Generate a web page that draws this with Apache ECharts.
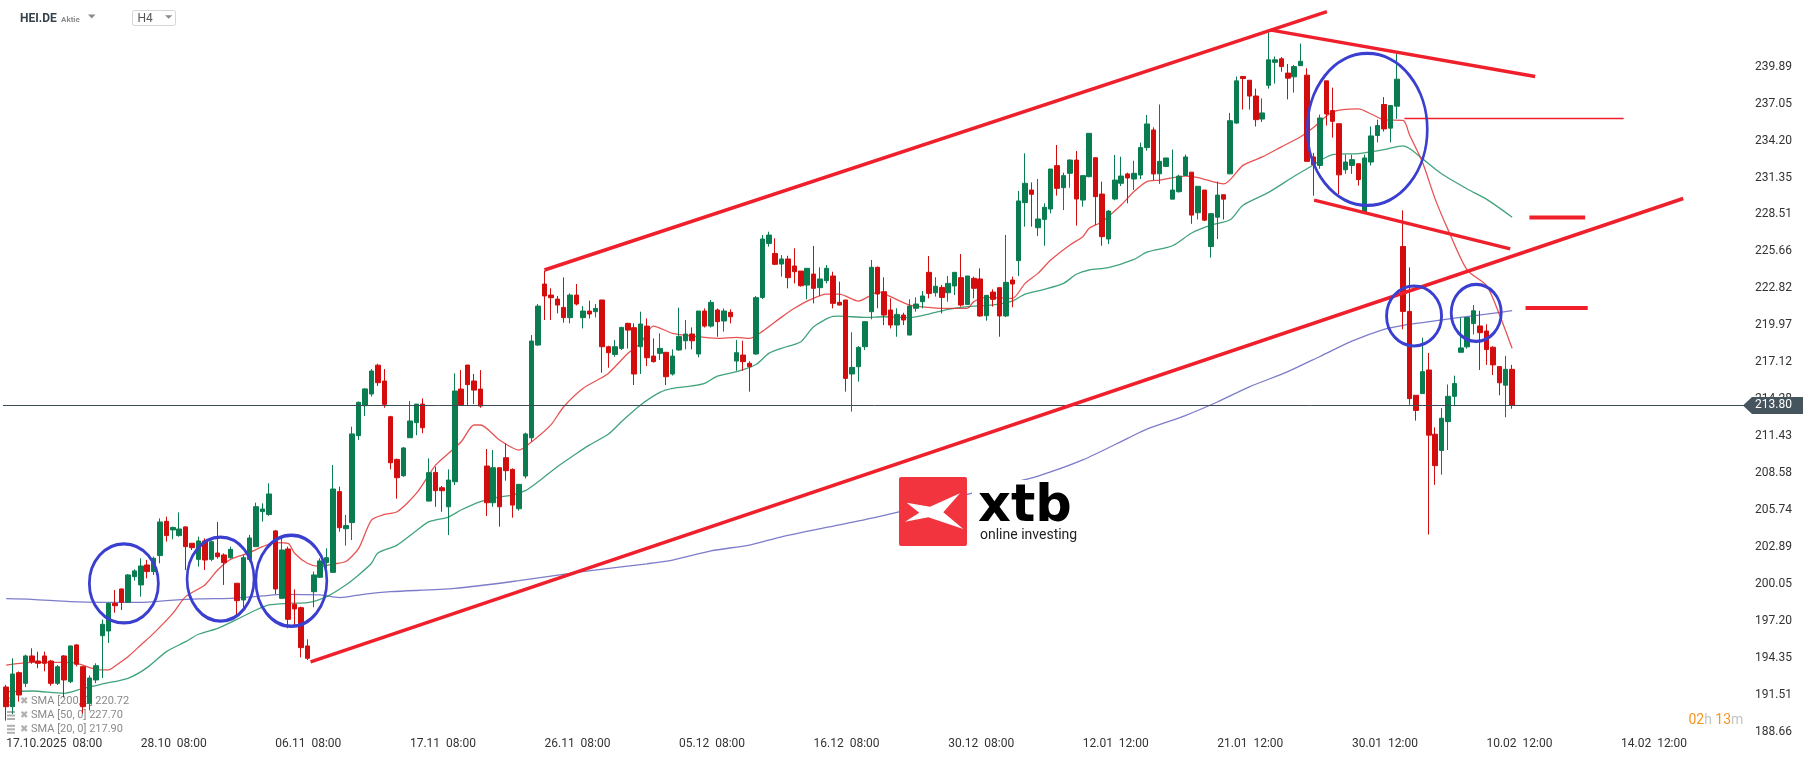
<!DOCTYPE html>
<html>
<head>
<meta charset="utf-8">
<title>HEI.DE H4</title>
<script src="https://cdn.jsdelivr.net/npm/echarts@6/dist/echarts.min.js"></script>
<style>
  html, body { margin: 0; padding: 0; background: #ffffff; }
  #chart { width: 1815px; height: 761px; }
</style>
</head>
<body>
<div id="chart"></div>
<script>
// --- data ---
const xLabels = ['17.10.2025  08:00', '28.10  08:00', '06.11  08:00', '17.11  08:00', '26.11  08:00',
  '05.12  08:00', '16.12  08:00', '30.12  08:00', '12.01  12:00', '21.01  12:00', '30.01  12:00',
  '10.02  12:00', '14.02  12:00']
const labelStep = 21
const slotCount = 272

const yTicks = [188.66, 191.51, 194.35, 197.20, 200.05, 202.89, 205.74, 208.58, 211.43, 214.28,
  217.12, 219.97, 222.82, 225.66, 228.51, 231.35, 234.20, 237.05, 239.89]

// [open, close, low, high]
const candles = [
  [192.11, 190.59, 189.52, 192.27], [190.59, 193.11, 190.03, 194.32], [193.21, 191.49, 190.98, 193.30],
  [192.39, 194.50, 192.10, 194.60], [194.50, 194.06, 193.90, 195.09], [194.11, 193.93, 193.55, 194.83],
  [194.50, 193.93, 193.32, 194.83], [194.11, 192.39, 192.20, 194.20], [192.39, 193.67, 192.26, 193.80],
  [194.50, 192.65, 191.30, 194.57], [192.52, 195.27, 192.40, 195.30], [195.35, 193.86, 193.70, 195.40],
  [193.67, 190.59, 190.08, 193.70], [190.85, 192.80, 190.30, 193.00], [192.65, 193.75, 192.40, 193.93],
  [196.06, 196.94, 192.80, 197.30], [196.42, 198.55, 195.50, 198.60], [198.55, 198.37, 197.83, 199.58],
  [199.66, 198.63, 198.04, 199.70], [198.63, 200.74, 198.60, 200.80], [200.61, 201.05, 200.30, 201.17],
  [199.97, 201.43, 199.07, 202.02], [201.51, 201.00, 200.48, 201.90], [201.00, 202.02, 200.74, 202.15],
  [202.23, 204.82, 201.64, 205.10], [204.87, 203.77, 203.31, 205.23], [204.21, 204.40, 203.49, 204.46],
  [203.77, 204.28, 203.69, 205.56], [204.44, 202.92, 201.12, 204.50], [203.18, 202.84, 202.66, 203.20],
  [201.94, 203.36, 201.38, 203.69], [203.36, 201.89, 201.12, 203.56], [201.94, 203.30, 201.80, 203.40],
  [202.43, 202.15, 202.00, 204.82], [202.28, 201.69, 199.97, 202.40], [202.07, 202.71, 202.00, 202.92],
  [200.10, 198.76, 197.53, 200.10], [198.81, 202.07, 198.04, 202.28], [201.94, 203.59, 201.76, 203.82],
  [202.92, 206.00, 202.90, 206.31], [205.62, 205.82, 204.85, 206.26], [205.40, 206.98, 205.30, 207.80],
  [204.13, 199.66, 199.27, 204.20], [198.94, 202.66, 198.90, 203.69], [202.74, 197.32, 196.63, 202.92],
  [198.48, 198.12, 196.76, 199.63], [198.22, 195.14, 194.39, 198.30], [195.27, 194.32, 194.19, 195.78],
  [199.45, 200.74, 198.25, 201.00], [200.56, 201.82, 200.50, 202.02], [201.69, 202.07, 201.25, 202.79],
  [200.94, 207.36, 200.90, 209.21], [207.16, 204.38, 204.07, 207.54], [204.30, 204.54, 203.00, 205.36],
  [204.77, 211.60, 203.43, 212.16], [211.47, 214.04, 211.14, 214.10], [213.78, 215.07, 212.99, 215.12],
  [214.68, 216.45, 214.48, 216.60], [216.90, 215.55, 215.30, 217.00], [215.68, 213.88, 213.62, 216.60],
  [212.93, 209.38, 208.87, 213.00], [209.64, 208.23, 206.61, 209.70], [208.38, 210.52, 208.30, 210.60],
  [211.31, 212.60, 211.30, 214.14], [212.47, 213.90, 211.50, 213.90], [213.90, 212.08, 211.65, 214.34],
  [206.43, 208.62, 206.40, 209.72], [208.64, 207.23, 205.99, 209.08], [207.46, 207.23, 205.61, 207.59],
  [205.99, 208.05, 203.81, 208.87], [207.92, 214.91, 207.66, 216.27], [215.06, 213.83, 213.75, 216.52],
  [216.91, 215.40, 213.83, 216.91], [215.68, 214.98, 213.90, 216.22], [215.06, 213.75, 213.62, 216.52],
  [209.13, 206.30, 205.28, 210.44], [206.30, 209.00, 205.99, 210.36], [209.00, 205.99, 204.46, 209.00],
  [209.77, 208.77, 208.00, 210.87], [208.87, 206.12, 205.15, 208.95], [205.84, 207.72, 205.69, 207.75],
  [208.36, 211.60, 208.18, 211.70], [211.31, 218.76, 211.00, 219.22], [218.45, 221.45, 218.40, 221.61],
  [223.15, 222.23, 220.38, 224.18], [222.30, 222.10, 220.38, 222.82], [221.99, 221.53, 220.89, 222.22],
  [221.35, 220.56, 220.17, 223.66], [220.56, 222.30, 220.12, 222.43], [222.30, 221.61, 221.50, 223.15],
  [220.56, 221.07, 219.73, 221.45], [221.07, 220.84, 220.50, 221.87], [221.02, 221.27, 220.58, 221.61],
  [221.92, 218.32, 216.32, 221.92], [218.32, 217.86, 216.70, 218.40], [217.73, 218.32, 217.55, 218.84],
  [218.19, 219.81, 218.07, 219.85], [220.12, 219.60, 218.19, 220.17], [219.79, 216.22, 215.37, 220.12],
  [218.32, 220.07, 216.22, 221.02], [219.91, 217.47, 216.83, 220.50], [217.60, 217.17, 217.10, 218.96],
  [217.81, 218.19, 217.30, 219.35], [217.89, 216.01, 215.37, 217.90], [216.22, 217.60, 216.10, 218.12],
  [218.07, 219.10, 218.00, 221.33], [218.78, 219.30, 218.12, 220.38], [219.30, 218.78, 218.12, 219.81],
  [217.76, 221.07, 217.50, 221.07], [221.07, 219.91, 219.80, 221.27], [219.91, 221.74, 219.80, 221.92],
  [221.15, 220.25, 219.09, 221.27], [220.30, 221.07, 219.48, 221.27], [220.97, 220.63, 220.12, 221.20],
  [217.22, 217.86, 216.47, 218.84], [217.68, 217.17, 216.47, 218.78], [217.04, 216.78, 214.86, 217.20],
  [217.76, 222.10, 217.70, 222.23], [222.12, 226.62, 222.00, 226.92], [226.28, 226.92, 226.03, 227.18],
  [225.51, 224.67, 224.60, 226.67], [224.69, 225.08, 223.72, 225.38], [225.08, 223.64, 222.82, 225.33],
  [224.54, 224.10, 223.20, 225.90], [224.15, 223.02, 222.95, 224.15], [223.07, 224.36, 221.97, 224.36],
  [223.92, 222.82, 221.66, 226.08], [222.87, 223.54, 222.23, 224.44], [223.41, 224.36, 223.20, 224.61],
  [223.77, 221.66, 221.28, 224.10], [221.74, 221.53, 221.50, 223.33], [221.92, 215.88, 214.86, 221.92],
  [216.22, 216.73, 213.32, 219.43], [216.78, 218.27, 215.63, 218.37], [218.32, 220.25, 218.07, 220.30],
  [221.02, 224.44, 220.43, 225.00], [224.44, 222.38, 221.28, 224.49], [222.56, 220.76, 219.99, 223.67],
  [221.15, 219.99, 219.73, 222.05], [219.99, 220.81, 219.09, 221.28], [220.76, 220.38, 219.99, 220.94],
  [219.22, 221.46, 219.20, 221.97], [221.28, 221.61, 221.02, 222.12], [221.79, 222.23, 221.28, 222.61],
  [224.05, 222.43, 222.05, 225.31], [222.48, 222.98, 222.18, 223.67], [222.89, 222.12, 220.89, 223.08],
  [222.48, 223.20, 221.79, 223.77], [223.00, 224.05, 222.30, 224.05], [223.64, 221.53, 221.41, 225.46],
  [221.58, 223.77, 221.53, 223.77], [223.59, 222.82, 222.05, 223.72], [223.54, 220.69, 220.63, 224.36],
  [220.71, 222.28, 220.33, 222.30], [222.53, 221.97, 221.41, 222.74], [222.87, 220.69, 219.09, 222.87],
  [220.69, 223.28, 220.60, 226.93], [223.46, 223.15, 221.36, 223.72], [224.95, 229.55, 223.77, 230.32],
  [229.42, 230.91, 227.57, 233.22], [230.39, 230.06, 227.57, 230.98], [227.49, 228.16, 226.85, 231.24],
  [228.13, 229.06, 226.10, 229.37], [228.93, 232.01, 228.60, 232.01], [232.27, 230.52, 229.96, 233.86],
  [230.57, 231.50, 228.85, 231.73], [231.68, 232.70, 230.57, 232.76], [232.70, 229.70, 227.65, 233.40],
  [229.62, 231.50, 229.11, 231.50], [231.42, 234.76, 231.37, 234.76], [232.88, 229.88, 227.70, 232.88],
  [230.08, 226.80, 226.10, 231.04], [226.62, 228.77, 226.23, 228.85], [229.70, 231.16, 229.60, 233.09],
  [230.91, 231.47, 230.70, 232.96], [231.63, 231.32, 229.37, 231.73], [231.24, 231.68, 230.40, 232.65],
  [231.55, 233.66, 231.24, 234.04], [233.66, 235.48, 233.42, 236.17], [235.02, 231.63, 231.16, 235.22],
  [231.64, 232.60, 230.86, 236.98], [232.21, 232.86, 232.16, 232.86], [229.69, 230.39, 229.69, 233.51],
  [230.26, 231.46, 230.20, 231.56], [231.51, 232.94, 231.50, 233.12], [231.77, 228.46, 227.79, 231.77],
  [228.64, 230.68, 228.12, 230.68], [230.39, 228.07, 228.00, 230.39], [226.04, 228.57, 225.18, 228.60],
  [228.30, 230.00, 226.61, 231.04], [230.03, 229.69, 228.12, 230.03], [231.64, 235.73, 231.60, 236.33],
  [235.55, 238.80, 235.50, 239.14], [239.14, 238.98, 236.59, 239.14], [238.85, 237.63, 236.59, 238.85],
  [237.63, 235.81, 235.29, 238.20], [235.86, 236.33, 235.63, 237.45], [238.46, 240.42, 238.20, 242.53],
  [240.23, 240.42, 238.59, 240.68], [240.50, 239.90, 239.50, 240.63], [239.40, 239.01, 237.37, 240.10],
  [239.11, 239.90, 237.89, 240.03], [239.97, 240.31, 239.97, 241.67], [239.24, 232.60, 232.60, 239.77],
  [232.94, 232.34, 229.95, 233.25], [232.29, 235.94, 232.03, 236.20], [238.80, 236.25, 235.36, 238.80],
  [236.51, 235.68, 234.43, 238.28], [235.50, 231.56, 230.08, 235.50], [231.95, 232.55, 231.64, 233.12],
  [232.29, 232.73, 231.64, 233.12], [232.42, 231.20, 230.73, 232.42], [228.70, 232.86, 228.60, 233.12],
  [232.55, 234.56, 232.29, 235.29], [234.59, 235.36, 234.06, 235.81], [236.98, 235.10, 234.90, 237.55],
  [235.16, 236.90, 234.06, 236.90], [236.85, 238.93, 235.88, 240.89], [226.04, 221.04, 219.66, 228.83],
  [221.04, 214.32, 213.85, 224.43], [214.58, 213.41, 212.63, 214.58], [214.71, 216.40, 214.70, 219.01],
  [216.53, 211.51, 203.85, 217.84], [211.58, 209.16, 207.68, 212.11], [210.33, 212.81, 208.46, 213.59],
  [212.55, 214.50, 210.36, 215.41], [214.50, 215.49, 213.80, 216.09], [217.89, 218.23, 217.89, 220.57],
  [218.31, 220.57, 218.18, 220.57], [220.10, 221.09, 219.27, 221.53], [219.92, 219.40, 216.53, 221.09],
  [219.53, 218.10, 216.92, 220.05], [218.28, 216.92, 216.14, 218.36], [216.79, 215.54, 214.58, 216.79],
  [215.36, 216.58, 212.89, 217.62], [216.58, 213.80, 213.54, 216.92]
]

// moving averages: [candle index, value]
const sma20 = [[0, 193.8], [4, 194.0], [9, 194.0], [11, 193.93], [14, 193.47], [16, 193.42], [17, 193.73],
  [19, 194.44], [21, 195.34], [23, 196.24], [26, 197.78], [28, 199.07], [31, 199.97], [33, 201.12],
  [35, 201.94], [38, 202.46], [40, 202.92], [42, 203.23], [44, 203.18], [45, 202.41], [47, 201.64],
  [49, 201.38], [51, 201.58], [53, 201.77], [55, 202.79], [57, 204.97], [59, 205.4], [61, 205.61],
  [64, 207.02], [67, 209.2], [69, 210.1], [71, 211.0], [73, 212.29], [74, 212.29], [77, 211.13],
  [80, 210.36], [82, 211.0], [85, 212.3], [87, 213.7], [90, 215.11], [93, 215.95], [94, 216.27],
  [97, 217.8], [99, 218.6], [101, 219.91], [104, 219.35], [107, 219.14], [111, 218.96], [114, 219.04],
  [116, 218.96], [118, 219.5], [121, 220.6], [123, 221.28], [125, 221.84], [128, 222.38], [130, 222.38],
  [133, 221.84], [135, 222.3], [136, 222.56], [138, 222.18], [141, 221.53], [144, 221.35], [146, 221.28],
  [150, 221.28], [151, 221.79], [153, 222.12], [157, 222.05], [159, 223.2], [161, 223.97], [163, 225.0],
  [166, 226.16], [168, 226.8], [169, 227.44], [171, 227.95], [174, 229.24], [176, 230.27], [178, 231.04],
  [180, 231.16], [184, 231.46], [186, 231.35], [190, 230.86], [193, 232.29], [196, 232.94], [199, 233.72],
  [202, 234.5], [204, 235.21], [207, 236.41], [211, 236.64], [213, 236.25], [215, 235.81], [218, 235.75],
  [219, 234.63], [221, 232.55], [223, 229.69], [225, 227.34], [228, 224.22], [231, 223.04], [233, 220.83],
  [235, 218.2]]

const sma50 = [[0, 191.75], [4, 191.8], [9, 191.62], [12, 192.0], [15, 192.34], [19, 192.78], [22, 193.6],
  [25, 194.83], [28, 195.6], [30, 196.17], [33, 196.63], [36, 197.32], [39, 198.04], [41, 198.43],
  [44, 198.55], [47, 198.6], [50, 199.07], [53, 199.97], [55, 200.74], [57, 201.64], [58, 202.43],
  [61, 203.04], [64, 204.15], [66, 204.84], [69, 205.2], [71, 205.74], [74, 206.38], [77, 206.75],
  [79, 206.89], [81, 207.23], [83, 207.92], [86, 209.08], [89, 210.1], [91, 210.74], [94, 211.6],
  [96, 212.54], [99, 213.83], [102, 214.8], [104, 215.11], [107, 215.3], [109, 215.5], [111, 216.06],
  [114, 216.4], [117, 216.95], [119, 217.81], [121, 218.2], [124, 218.71], [126, 219.86], [129, 220.65],
  [130, 220.68], [134, 220.58], [137, 220.63], [141, 220.56], [144, 220.84], [147, 221.2], [150, 221.41],
  [154, 221.55], [157, 221.84], [159, 222.38], [162, 222.74], [165, 223.2], [167, 223.9], [169, 224.23],
  [172, 224.41], [176, 225.05], [178, 225.6], [182, 226.1], [185, 227.08], [188, 227.68], [191, 228.1],
  [193, 229.22], [197, 230.21], [201, 231.45], [203, 232.03], [207, 233.12], [211, 233.2], [215, 233.5],
  [218, 233.8], [219, 233.59], [221, 232.81], [224, 231.64], [228, 230.47], [231, 229.69], [235, 228.3]]

const sma200 = [[0, 198.91], [4, 198.86], [10, 198.68], [15, 198.63], [21, 198.63], [25, 198.76],
  [30, 198.89], [35, 198.94], [40, 199.12], [43, 199.25], [49, 199.2], [52, 198.99], [56, 199.27],
  [60, 199.45], [70, 199.7], [80, 200.3], [90, 201.0], [100, 201.6], [104, 201.89], [110, 202.6],
  [116, 203.04], [121, 203.68], [130, 204.6], [136, 205.22], [145, 206.3], [155, 207.6], [161, 208.36],
  [168, 209.6], [175, 211.26], [178, 211.98], [184, 213.02], [189, 214.06], [194, 215.23], [200, 216.4],
  [205, 217.57], [210, 218.75], [215, 219.66], [218, 219.97], [221, 220.18], [226, 220.52], [231, 220.83],
  [235, 221.1]]

const smaLegend = ['SMA [200, 0] 220.72', 'SMA [50, 0] 227.70', 'SMA [20, 0] 217.90']
const lastPrice = 213.80

// drawn annotations: [candle index, price]
const upperChannel = [[84, 224.23], [206.1, 244.14]]
const lowerChannel = [[47.5, 194.05], [261.7, 229.74]]
const topFalling = [[197.4, 242.71], [238.6, 239.14]]
const bottomFalling = [[204.1, 229.61], [234.7, 225.86]]
const levelLine = [[218.2, 235.91], [252.4, 235.91]]
const levelDash1 = [[237.7, 228.27], [246.4, 228.27]]
const levelDash2 = [[237.1, 221.30], [246.8, 221.30]]
const circleCenters = [[18.36, 200.09], [33.45, 200.42], [44.5, 200.29], [212.4, 235.06], [219.7, 220.69], [229.4, 220.93]]
const circleSizes = [[69, 79], [67, 84], [71, 91], [120, 152], [55, 60], [50, 57]]

// --- chart ---
const chart = echarts.init(document.getElementById('chart'))

const UP = '#0a7d50'
const DOWN = '#d30d0d'
const DRAW_RED = '#ef1f2b'
const FONT = 'Roboto'

const drawnLine = (name, data, width, color) => ({
  name,
  type: 'line',
  xAxisIndex: 1,
  yAxisIndex: 0,
  data,
  symbol: 'none',
  silent: true,
  z: 5,
  lineStyle: { color: color || DRAW_RED, width }
})

const smaLine = (name, data, color) => ({
  name,
  type: 'line',
  xAxisIndex: 1,
  yAxisIndex: 0,
  data,
  symbol: 'none',
  smooth: 0.25,
  silent: true,
  z: 3,
  lineStyle: { color, width: 1.3 }
})

const option = {
  animation: false,
  backgroundColor: '#ffffff',
  grid: { left: 3, right: 69, top: 0, bottom: 26, outerBoundsMode: 'none' },
  xAxis: [
    {
      type: 'category',
      data: Array.from({ length: slotCount }, (_, i) => String(i)),
      boundaryGap: true,
      axisLine: { show: false },
      axisTick: { show: false },
      splitLine: { show: false },
      axisLabel: {
        interval: (index) => index % labelStep === 0 && index / labelStep < xLabels.length,
        formatter: (value) => xLabels[Math.round(Number(value) / labelStep)] || '',
        align: 'left',
        margin: 3,
        color: '#333',
        fontFamily: FONT,
        fontSize: 12
      }
    },
    {
      type: 'value',
      min: -0.5,
      max: slotCount - 0.5,
      show: false
    }
  ],
  yAxis: {
    type: 'value',
    position: 'right',
    min: 188.41,
    max: 245.03,
    scale: true,
    axisLine: { show: false },
    axisTick: { show: false },
    splitLine: { show: false },
    axisLabel: {
      customValues: yTicks,
      formatter: (v) => v.toFixed(2),
      align: 'left',
      margin: 9,
      color: '#333',
      fontFamily: FONT,
      fontSize: 12
    }
  },
  series: [
    smaLine('SMA 200', sma200, 'rgba(80, 80, 185, 0.75)'),
    smaLine('SMA 50', sma50, 'rgba(18, 140, 90, 0.8)'),
    smaLine('SMA 20', sma20, 'rgba(225, 40, 40, 0.8)'),
    {
      name: 'HEI.DE',
      type: 'candlestick',
      xAxisIndex: 0,
      yAxisIndex: 0,
      data: candles,
      barWidth: 5,
      z: 4,
      itemStyle: {
        color: UP,
        color0: DOWN,
        borderColor: UP,
        borderColor0: DOWN,
        borderWidth: 1
      },
      markLine: {
        silent: true,
        symbol: 'none',
        label: { show: false },
        lineStyle: { color: '#3d4b55', width: 1, type: 'solid' },
        data: [{ yAxis: lastPrice }]
      }
    },
    drawnLine('upper channel', upperChannel, 3.5),
    drawnLine('lower channel', lowerChannel, 3.5),
    drawnLine('top falling', topFalling, 3.5),
    drawnLine('bottom falling', bottomFalling, 3.5),
    drawnLine('level', levelLine, 1.5),
    drawnLine('level dash 1', levelDash1, 4),
    drawnLine('level dash 2', levelDash2, 4),
    {
      name: 'circles',
      type: 'scatter',
      xAxisIndex: 1,
      yAxisIndex: 0,
      data: circleCenters,
      symbol: 'circle',
      symbolSize: (val, params) => circleSizes[params.dataIndex],
      silent: true,
      z: 6,
      itemStyle: { color: 'rgba(0,0,0,0)', borderColor: '#3a3fcf', borderWidth: 3, opacity: 1 }
    }
  ]
}

chart.setOption(option)

// --- decorations (header, logo, legend, price tag) ---
const py = chart.convertToPixel({ yAxisIndex: 0 }, lastPrice)

const legendRows = smaLegend.map((txt, k) => {
  const cy = 701.7 + k * 13.8
  return {
    type: 'group',
    z: 50,
    children: [
      { type: 'rect', shape: { x: 7, y: cy - 4.5, width: 8, height: 2 }, style: { fill: '#b0b0b0' } },
      { type: 'rect', shape: { x: 7, y: cy - 1, width: 8, height: 2 }, style: { fill: '#b0b0b0' } },
      { type: 'rect', shape: { x: 7, y: cy + 2.5, width: 8, height: 2 }, style: { fill: '#b0b0b0' } },
      { type: 'text', x: 20, y: cy, style: { text: '✖', fill: '#b0b0b0', font: '10px "DejaVu Sans"', verticalAlign: 'middle' } },
      { type: 'text', x: 31, y: cy, style: { text: txt, fill: '#8a8a8a', font: '11px Roboto', verticalAlign: 'middle' } }
    ]
  }
})

chart.setOption({
  graphic: [
    // header
    { type: 'text', x: 20, y: 18.5, z: 50, style: { text: 'HEI.DE', fill: '#36434c', font: 'bold 12px Roboto', verticalAlign: 'middle' } },
    { type: 'text', x: 61, y: 19.5, z: 50, style: { text: 'Aktie', fill: '#8c8c8c', font: 'bold 8px Roboto', verticalAlign: 'middle' } },
    { type: 'polygon', z: 50, shape: { points: [[88, 14.5], [95.5, 14.5], [91.7, 18.5]] }, style: { fill: '#8c8c8c' } },
    { type: 'rect', z: 50, shape: { x: 132.5, y: 10.5, width: 43, height: 15, r: 2 }, style: { fill: '#fff', stroke: '#d6d6d6', lineWidth: 1 } },
    { type: 'text', x: 137.5, y: 19, z: 51, style: { text: 'H4', fill: '#555', font: '12px Roboto', verticalAlign: 'middle' } },
    { type: 'polygon', z: 51, shape: { points: [[165, 15.3], [172.3, 15.3], [168.7, 18.7]] }, style: { fill: '#8c8c8c' } },
    // xtb logo
    { type: 'rect', z: 40, shape: { x: 899, y: 477, width: 68, height: 69, r: 2 }, style: { fill: '#f2343f' } },
    {
      type: 'polygon', z: 41,
      shape: { points: [[906.7, 502.7], [930, 506.7], [960, 493.3], [943.3, 512.3], [963.3, 529], [928.3, 517.3], [905, 521.7], [919.3, 512.7]] },
      style: { fill: '#ffffff' }
    },
    { type: 'rect', z: 39, shape: { x: 972, y: 480, width: 110, height: 66 }, style: { fill: '#ffffff' } },
    { type: 'text', x: 978, y: 507.5, z: 41, style: { text: 'xtb', fill: '#000', font: 'bold 51px "DejaVu Sans"', verticalAlign: 'middle' } },
    { type: 'text', x: 980, y: 535, z: 41, style: { text: 'online investing', fill: '#222', font: '14px Roboto', verticalAlign: 'middle' } },
    // countdown
    {
      type: 'text', x: 1688.5, y: 720, z: 50,
      style: {
        text: '{o|02}{g|h} {o|13}{g|m}',
        verticalAlign: 'middle',
        rich: {
          o: { fill: '#f7941d', font: '14px Roboto' },
          g: { fill: '#c4c4c4', font: '14px Roboto' }
        }
      }
    },
    // price tag
    {
      type: 'polygon', z: 60,
      shape: { points: [[1743, py], [1752, py - 8.5], [1803, py - 8.5], [1803, py + 8.5], [1752, py + 8.5]] },
      style: { fill: '#46545d' }
    },
    { type: 'text', x: 1755, y: py, z: 61, style: { text: lastPrice.toFixed(2), fill: '#ffffff', font: '12px Roboto', verticalAlign: 'middle' } },
    ...legendRows
  ]
})
</script>
</body>
</html>
